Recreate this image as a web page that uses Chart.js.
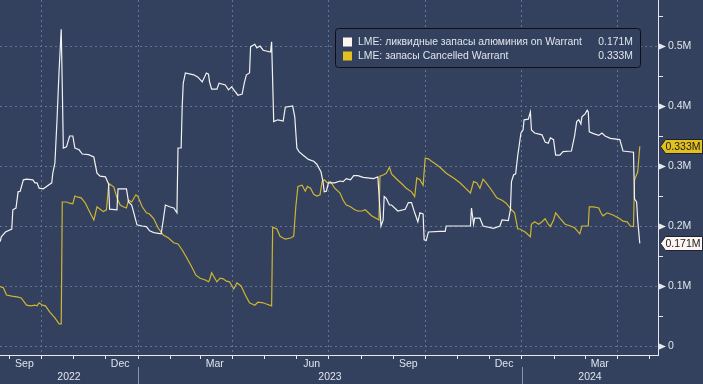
<!DOCTYPE html>
<html>
<head>
<meta charset="utf-8">
<script src="https://cdn.jsdelivr.net/npm/chart.js@4"></script>
<style>
  html, body { margin: 0; padding: 0; background: #33415e; }
</style>
</head>
<body>
<canvas id="chart" width="703" height="384"></canvas>
<script>
// LME: on-warrant aluminium stocks, million tonnes
const onWarrantDates = [
  '2022-08-23','2022-08-24','2022-08-28','2022-09-03','2022-09-04','2022-09-07','2022-09-09','2022-09-11',
  '2022-09-14','2022-09-17','2022-09-23','2022-09-25','2022-09-27','2022-09-29','2022-10-03','2022-10-06',
  '2022-10-11','2022-10-12','2022-10-14','2022-10-16','2022-10-18','2022-10-20','2022-10-21','2022-10-22',
  '2022-10-25','2022-10-28','2022-10-31','2022-11-02','2022-11-06','2022-11-09','2022-11-15','2022-11-20',
  '2022-11-23','2022-11-26','2022-12-01','2022-12-04','2022-12-05','2022-12-12','2022-12-13','2022-12-21',
  '2022-12-23','2022-12-26','2022-12-28','2022-12-31','2023-01-05','2023-01-09','2023-01-12','2023-01-16',
  '2023-01-23','2023-01-25','2023-01-27','2023-01-31','2023-02-04','2023-02-07','2023-02-08','2023-02-11',
  '2023-02-12','2023-02-13','2023-02-15','2023-02-23','2023-02-27','2023-03-03','2023-03-07','2023-03-09',
  '2023-03-10','2023-03-12','2023-03-17','2023-03-19','2023-03-25','2023-03-28','2023-03-31','2023-04-03',
  '2023-04-06','2023-04-10','2023-04-12','2023-04-14','2023-04-17','2023-04-18','2023-04-22','2023-04-24',
  '2023-04-27','2023-04-30','2023-05-07','2023-05-08','2023-05-10','2023-05-14','2023-05-19','2023-05-21',
  '2023-05-28','2023-05-30','2023-06-01','2023-06-03','2023-06-07','2023-06-12','2023-06-17','2023-06-20',
  '2023-06-24','2023-06-26','2023-06-27','2023-06-29','2023-07-01','2023-07-07','2023-07-12','2023-07-15',
  '2023-07-18','2023-07-22','2023-07-25','2023-07-29','2023-08-03','2023-08-13','2023-08-17','2023-08-20',
  '2023-08-22','2023-08-23','2023-08-25','2023-08-28','2023-08-30','2023-09-05','2023-09-12','2023-09-15',
  '2023-09-18','2023-09-21','2023-09-24','2023-09-26','2023-09-29','2023-09-30','2023-10-02','2023-10-04',
  '2023-10-15','2023-10-20','2023-10-21','2023-11-13','2023-11-14','2023-11-16','2023-11-17','2023-11-22',
  '2023-11-25','2023-12-05','2023-12-11','2023-12-13','2023-12-19','2023-12-21','2023-12-22','2023-12-24',
  '2023-12-26','2023-12-28','2023-12-29','2023-12-31','2024-01-02','2024-01-03','2024-01-07','2024-01-09',
  '2024-01-10','2024-01-13','2024-01-20','2024-01-23','2024-01-26','2024-01-28','2024-01-31','2024-02-02',
  '2024-02-06','2024-02-09','2024-02-17','2024-02-19','2024-02-20','2024-02-22','2024-02-24','2024-02-26',
  '2024-02-27','2024-03-01','2024-03-03','2024-03-04','2024-03-05','2024-03-09','2024-03-14','2024-03-17',
  '2024-03-20','2024-03-25','2024-04-03','2024-04-06','2024-04-16','2024-04-17','2024-04-19','2024-04-20',
  '2024-04-22'
];
const onWarrantValues = [
  0.174,0.182,0.190,0.195,0.227,0.230,0.257,0.258,
  0.277,0.278,0.277,0.272,0.272,0.263,0.262,0.266,
  0.272,0.288,0.305,0.377,0.460,0.528,0.432,0.330,
  0.332,0.350,0.350,0.330,0.327,0.320,0.319,0.315,
  0.288,0.283,0.282,0.270,0.228,0.227,0.262,0.262,
  0.240,0.235,0.222,0.202,0.200,0.199,0.192,0.189,
  0.187,0.210,0.235,0.232,0.230,0.222,0.330,0.330,
  0.399,0.438,0.455,0.452,0.448,0.440,0.455,0.453,
  0.440,0.428,0.428,0.438,0.435,0.427,0.432,0.425,
  0.418,0.420,0.438,0.452,0.455,0.499,0.503,0.497,
  0.500,0.493,0.490,0.507,0.374,0.377,0.375,0.398,
  0.400,0.382,0.330,0.324,0.318,0.311,0.308,0.303,
  0.290,0.272,0.257,0.258,0.272,0.272,0.275,0.274,
  0.279,0.277,0.284,0.284,0.281,0.279,0.282,0.200,
  0.210,0.249,0.246,0.235,0.235,0.225,0.228,0.239,
  0.239,0.222,0.207,0.222,0.220,0.177,0.176,0.190,
  0.191,0.191,0.200,0.200,0.230,0.203,0.213,0.213,
  0.200,0.196,0.200,0.210,0.209,0.227,0.274,0.285,
  0.287,0.318,0.330,0.355,0.360,0.377,0.378,0.390,
  0.360,0.355,0.352,0.340,0.338,0.347,0.344,0.318,
  0.318,0.324,0.325,0.342,0.350,0.374,0.377,0.370,
  0.382,0.387,0.393,0.390,0.357,0.354,0.351,0.355,
  0.350,0.346,0.344,0.325,0.323,0.245,0.240,0.210,
  0.171
];

// LME: cancelled-warrant aluminium stocks, million tonnes
const cancelledDates = [
  '2022-08-23','2022-08-26','2022-08-29','2022-09-03','2022-09-08','2022-09-12','2022-09-17','2022-09-21',
  '2022-09-25','2022-09-27','2022-09-29','2022-10-02','2022-10-05','2022-10-09','2022-10-14','2022-10-18',
  '2022-10-20','2022-10-21','2022-10-25','2022-10-28','2022-10-31','2022-11-02','2022-11-05','2022-11-08',
  '2022-11-12','2022-11-15','2022-11-20','2022-11-23','2022-11-26','2022-11-29','2022-12-02','2022-12-04',
  '2022-12-05','2022-12-09','2022-12-12','2022-12-15','2022-12-18','2022-12-21','2022-12-23','2022-12-26',
  '2022-12-30','2023-01-01','2023-01-05','2023-01-09','2023-01-12','2023-01-16','2023-01-20','2023-01-25',
  '2023-01-30','2023-02-04','2023-02-08','2023-02-12','2023-02-16','2023-02-21','2023-02-25','2023-03-01',
  '2023-03-06','2023-03-09','2023-03-10','2023-03-12','2023-03-15','2023-03-17','2023-03-20','2023-03-23',
  '2023-03-26','2023-03-29','2023-04-02','2023-04-05','2023-04-09','2023-04-13','2023-04-17','2023-04-22',
  '2023-04-25','2023-04-30','2023-05-03','2023-05-08','2023-05-09','2023-05-13','2023-05-16','2023-05-21',
  '2023-05-26','2023-05-29','2023-05-31','2023-06-02','2023-06-06','2023-06-09','2023-06-11','2023-06-14',
  '2023-06-17','2023-06-20','2023-06-23','2023-06-25','2023-06-27','2023-06-30','2023-07-03','2023-07-07',
  '2023-07-12','2023-07-15','2023-07-18','2023-07-22','2023-07-26','2023-07-29','2023-08-02','2023-08-05',
  '2023-08-08','2023-08-11','2023-08-16','2023-08-18','2023-08-19','2023-08-22','2023-08-25','2023-08-28',
  '2023-08-30','2023-09-04','2023-09-09','2023-09-13','2023-09-18','2023-09-21','2023-09-23','2023-09-26',
  '2023-09-29','2023-10-01','2023-10-04','2023-10-07','2023-10-12','2023-10-15','2023-10-21','2023-10-28',
  '2023-11-03','2023-11-09','2023-11-13','2023-11-16','2023-11-19','2023-11-22','2023-11-25','2023-11-28',
  '2023-12-03','2023-12-08','2023-12-13','2023-12-17','2023-12-22','2023-12-25','2023-12-28','2023-12-30',
  '2024-01-04','2024-01-09','2024-01-10','2024-01-13','2024-01-17','2024-01-20','2024-01-23','2024-01-26',
  '2024-01-28','2024-01-31','2024-02-02','2024-02-06','2024-02-11','2024-02-16','2024-02-20','2024-02-25',
  '2024-02-27','2024-03-04','2024-03-05','2024-03-09','2024-03-14','2024-03-16','2024-03-18','2024-03-22',
  '2024-03-25','2024-03-28','2024-03-31','2024-04-03','2024-04-06','2024-04-10','2024-04-13','2024-04-16',
  '2024-04-17','2024-04-20','2024-04-22'
];
const cancelledValues = [
  0.099,0.097,0.085,0.083,0.082,0.080,0.068,0.067,
  0.068,0.067,0.072,0.068,0.067,0.057,0.047,0.037,
  0.037,0.240,0.240,0.238,0.237,0.250,0.248,0.247,
  0.238,0.227,0.210,0.232,0.228,0.224,0.227,0.266,
  0.270,0.265,0.247,0.235,0.232,0.230,0.243,0.240,
  0.252,0.249,0.232,0.222,0.220,0.212,0.197,0.185,
  0.180,0.172,0.170,0.160,0.148,0.132,0.118,0.113,
  0.110,0.107,0.110,0.122,0.113,0.107,0.113,0.112,
  0.108,0.107,0.095,0.105,0.100,0.085,0.072,0.068,
  0.073,0.072,0.070,0.067,0.198,0.195,0.183,0.178,
  0.180,0.183,0.232,0.266,0.268,0.258,0.266,0.263,
  0.253,0.250,0.252,0.274,0.277,0.272,0.274,0.263,
  0.255,0.243,0.235,0.232,0.227,0.225,0.225,0.227,
  0.222,0.217,0.212,0.210,0.283,0.285,0.288,0.298,
  0.287,0.278,0.270,0.263,0.257,0.249,0.280,0.277,
  0.268,0.313,0.312,0.308,0.302,0.298,0.288,0.280,
  0.272,0.262,0.255,0.274,0.272,0.263,0.278,0.272,
  0.260,0.247,0.243,0.238,0.227,0.222,0.195,0.195,
  0.190,0.182,0.203,0.207,0.203,0.207,0.212,0.203,
  0.199,0.210,0.222,0.213,0.203,0.200,0.197,0.187,
  0.200,0.200,0.232,0.232,0.230,0.222,0.217,0.222,
  0.220,0.218,0.215,0.212,0.208,0.207,0.200,0.199,
  0.277,0.290,0.333
];

const seriesLabels = ['LME: ликвидные запасы алюминия on Warrant', 'LME: запасы Cancelled Warrant'];
const monthNames = ['Jan','Feb','Mar','Apr','May','Jun','Jul','Aug','Sep','Oct','Nov','Dec'];
const yearLabels = ['2022', '2023', '2024'];
const yMajorTicks = [0, 0.1, 0.2, 0.3, 0.4, 0.5];
const yMajorLabels = ['0', '0.1M', '0.2M', '0.3M', '0.4M', '0.5M'];

const bg = '#33415e';
const gridColor = '#63739a';
const axisColor = '#e6e8ec';
const textColor = '#dfe4ec';
const whiteLine = '#f2f2f2';
const yellowLine = '#cfb531';
const font = '"Liberation Sans", Arial, sans-serif';

const dayNum = s => Date.UTC(+s.slice(0, 4), +s.slice(5, 7) - 1, +s.slice(8, 10)) / 86400000;
const ymd = (y, m, d) => Date.UTC(y, m, d) / 86400000;

const xMin = dayNum('2022-08-23') - 0.2;
const xMax = dayNum('2024-05-09') + 0.3;

// month starts for axis ticks
const monthStarts = [];
for (let y = 2022; y <= 2024; y++) {
  for (let m = 0; m < 12; m++) {
    const v = ymd(y, m, 1);
    if (v > xMin && v < xMax) monthStarts.push({ v, y, m });
  }
}
const isQuarterStart = v => monthStarts.some(t => t.v === v && t.m % 3 === 0);

// y ticks: majors plus half-way minors
const yTickValues = [];
yMajorTicks.forEach((v, i) => {
  yTickValues.push(v);
  const next = i < yMajorTicks.length - 1 ? yMajorTicks[i + 1] : v + 0.1;
  yTickValues.push((v + next) / 2);
});
const majorIndex = v => yMajorTicks.findIndex(t => Math.abs(t - v) < 1e-9);

const toPoints = (dates, values) => dates.map((d, i) => ({ x: dayNum(d), y: values[i] }));
const fmt = v => v.toFixed(3) + 'M';

const decor = {
  id: 'decor',
  beforeDraw(chart) {
    const { ctx, width, height } = chart;
    ctx.save();
    ctx.fillStyle = bg;
    ctx.fillRect(0, 0, width, height);
    ctx.restore();
  },
  afterDraw(chart) {
    const { ctx, chartArea: a, scales: { x, y } } = chart;
    ctx.save();

    // arrow heads on major y ticks
    ctx.fillStyle = axisColor;
    yMajorTicks.forEach(v => {
      const py = Math.round(y.getPixelForValue(v)) + 0.5;
      ctx.beginPath();
      ctx.moveTo(a.right, py - 3.5);
      ctx.lineTo(a.right + 8, py);
      ctx.lineTo(a.right, py + 3.5);
      ctx.closePath();
      ctx.fill();
    });

    // month labels (quarter months, centred on mid-month)
    ctx.font = '10.5px ' + font;
    ctx.fillStyle = textColor;
    ctx.textAlign = 'center';
    ctx.textBaseline = 'middle';
    monthStarts.forEach(t => {
      if (t.m % 3 !== 2) return;
      const px = x.getPixelForValue(ymd(t.y, t.m, 15));
      if (px > a.left && px < a.right) ctx.fillText(monthNames[t.m], px, 364);
    });

    // year labels and separators
    yearLabels.forEach(lbl => {
      const yr = +lbl;
      const l = Math.max(a.left, x.getPixelForValue(ymd(yr, 0, 1)));
      const r = Math.min(a.right, x.getPixelForValue(ymd(yr + 1, 0, 1)));
      ctx.fillStyle = textColor;
      ctx.fillText(lbl, (l + r) / 2, 377);
      const sep = x.getPixelForValue(ymd(yr, 0, 1));
      if (sep > a.left && sep < a.right) {
        ctx.strokeStyle = '#8a94a8';
        ctx.lineWidth = 1;
        ctx.beginPath();
        ctx.moveTo(Math.round(sep) + 0.5, 367);
        ctx.lineTo(Math.round(sep) + 0.5, 384);
        ctx.stroke();
      }
    });

    // last value tags on the axis
    const tagColors = ['#fbf4f0', '#e3c01f'];
    chart.data.datasets.forEach((ds, i) => {
      const last = ds.data[ds.data.length - 1].y;
      const py = Math.round(y.getPixelForValue(last)) + 0.5;
      const x0 = a.right + 2.5, h = 14;
      ctx.beginPath();
      ctx.moveTo(x0, py);
      ctx.lineTo(x0 + 5, py - h / 2);
      ctx.lineTo(chart.width - 0.5, py - h / 2);
      ctx.lineTo(chart.width - 0.5, py + h / 2);
      ctx.lineTo(x0 + 5, py + h / 2);
      ctx.closePath();
      ctx.fillStyle = tagColors[i];
      ctx.fill();
      ctx.strokeStyle = '#1d2230';
      ctx.lineWidth = 1;
      ctx.stroke();
      ctx.fillStyle = '#1b1b1b';
      ctx.textAlign = 'left';
      ctx.font = '10.5px ' + font;
      ctx.fillText(fmt(last), x0 + 5, py + 0.5);
    });

    // legend box
    const bx = 335.5, by = 28.5, bw = 305, bh = 39;
    ctx.beginPath();
    ctx.roundRect(bx, by, bw, bh, 3);
    ctx.fillStyle = bg;
    ctx.fill();
    ctx.strokeStyle = '#0e0f13';
    ctx.lineWidth = 1;
    ctx.stroke();
    const sq = ['#fff5f0', '#e3c01f'];
    ctx.font = '10.4px ' + font;
    chart.data.datasets.forEach((ds, i) => {
      const cy = 42 + i * 14;
      ctx.fillStyle = sq[i];
      ctx.fillRect(343, cy - 4.5, 9, 9);
      ctx.fillStyle = textColor;
      ctx.textAlign = 'left';
      ctx.fillText(ds.label, 358, cy);
      ctx.textAlign = 'right';
      ctx.fillText(fmt(ds.data[ds.data.length - 1].y), 633, cy);
    });

    ctx.restore();
  }
};

new Chart(document.getElementById('chart'), {
  type: 'line',
  data: {
    datasets: [
      {
        label: seriesLabels[0],
        data: toPoints(onWarrantDates, onWarrantValues),
        borderColor: whiteLine,
        borderWidth: 1.2,
        pointRadius: 0,
        tension: 0
      },
      {
        label: seriesLabels[1],
        data: toPoints(cancelledDates, cancelledValues),
        borderColor: yellowLine,
        borderWidth: 1.2,
        pointRadius: 0,
        tension: 0
      }
    ]
  },
  options: {
    responsive: false,
    animation: false,
    devicePixelRatio: 1,
    layout: { padding: 0 },
    plugins: {
      legend: { display: false },
      tooltip: { enabled: false }
    },
    scales: {
      x: {
        type: 'linear',
        position: 'bottom',
        min: xMin,
        max: xMax,
        afterBuildTicks: s => { s.ticks = monthStarts.map(t => ({ value: t.v })); },
        afterFit: s => { s.height = 29; s.paddingLeft = 0; s.paddingRight = 0; },
        ticks: { display: false, autoSkip: false },
        grid: {
          color: c => (c.tick && isQuarterStart(c.tick.value)) ? gridColor : 'rgba(0,0,0,0)',
          tickColor: axisColor,
          tickLength: 4,
          lineWidth: 1
        },
        border: { color: axisColor, width: 1, dash: [2, 3] }
      },
      y: {
        position: 'right',
        min: -0.015,
        max: 0.5767,
        afterBuildTicks: s => { s.ticks = yTickValues.map(v => ({ value: v })); },
        afterFit: s => { s.width = 45; s.paddingTop = 0; s.paddingBottom = 0; },
        ticks: {
          autoSkip: false,
          padding: 5,
          color: textColor,
          font: { family: font, size: 10.5 },
          callback: v => { const i = majorIndex(v); return i >= 0 ? yMajorLabels[i] : ''; }
        },
        grid: {
          color: c => (c.tick && majorIndex(c.tick.value) >= 0) ? gridColor : 'rgba(0,0,0,0)',
          tickColor: axisColor,
          tickLength: 5,
          lineWidth: 1
        },
        border: { color: axisColor, width: 1, dash: [2, 3] }
      }
    }
  },
  plugins: [decor]
});
</script>
</body>
</html>
